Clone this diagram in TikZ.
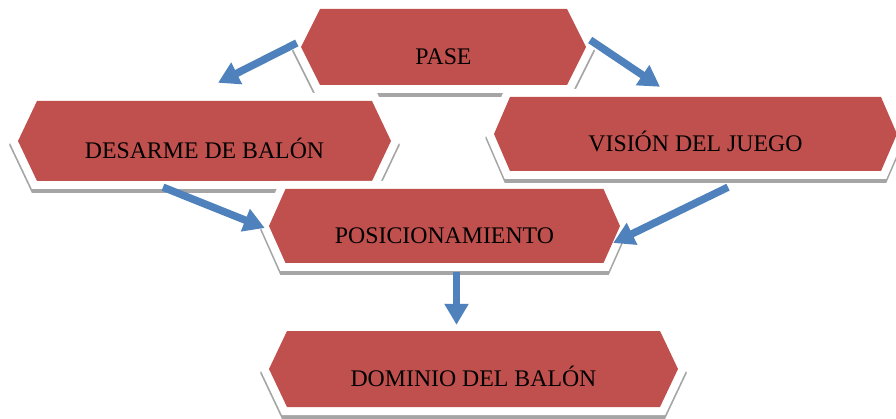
\documentclass[tikz,border=0pt]{standalone}
\usepackage{fontspec}
\setmainfont{Liberation Serif}
\usetikzlibrary{arrows.meta,calc,backgrounds}
\definecolor{boxred}{HTML}{C0504D}
\definecolor{flowblue}{HTML}{4F81BD}
\definecolor{shadowgray}{HTML}{A5A5A5}
\begin{document}
\begin{tikzpicture}[x=1pt,y=-1pt,
  box/.style={inner sep=0pt,text height=36pt,text depth=0.2pt,
    font=\fontsize{23.8}{28}\selectfont},
  hex/.style={insert path={(-\hw+\tp,-\hh) -- (\hw-\tp,-\hh) -- (\hw,0) -- (\hw-\tp,\hh) -- (-\hw+\tp,\hh) -- (-\hw,0) -- cycle}},
  flow/.style={draw=flowblue,line width=7.5pt,-{Triangle[width=23pt,length=21pt]}}]
\useasboundingbox (0,0) rectangle (896,419);

% boxes: name/x/y/half width/half height/tip/text
\foreach \n/\x/\y/\hw/\hh/\tp/\txt in {pase/443.5/47/142.5/38/19/PASE,
    desarme/204.5/141/186.5/40/19/DESARME DE BALÓN,
    pos/444.5/226/175.5/37/16.5/POSICIONAMIENTO,
    vision/695.5/134/201.5/37/16/VISIÓN DEL JUEGO,
    dominio/473.5/369/204.5/38/18/DOMINIO DEL BALÓN}{%
  \node[box,minimum width=2*\hw*1pt,minimum height=2*\hh*1pt] (\n) at (\x,\y) {\txt};
  \begin{scope}[on background layer,shift={(\n.center)}]
    \path[fill=shadowgray,draw=shadowgray,line width=16pt,yshift=-4pt,hex];
    \path[draw=white,line width=16pt,hex];
    \path[fill=boxred,hex];
  \end{scope}
}

\draw[flow] ($(pase.west)+(-4,-4)$) -- ($(desarme.north)+(13.5,-18)$);
\draw[flow] ($(pase.east)+(4,-7)$) -- ($(vision.north)+(-35.5,-10)$);
\draw[flow] ($(desarme.south)+(-41.5,6)$) -- ($(pos.west)+(-4,2)$);
\draw[flow] ($(vision.south)+(32.5,16)$) -- ($(pos.east)+(-7,17)$);
\draw[flow] ($(pos.south)+(12,9)$) -- ($(dominio.north)+(-17,-6)$);
\end{tikzpicture}
\end{document}
